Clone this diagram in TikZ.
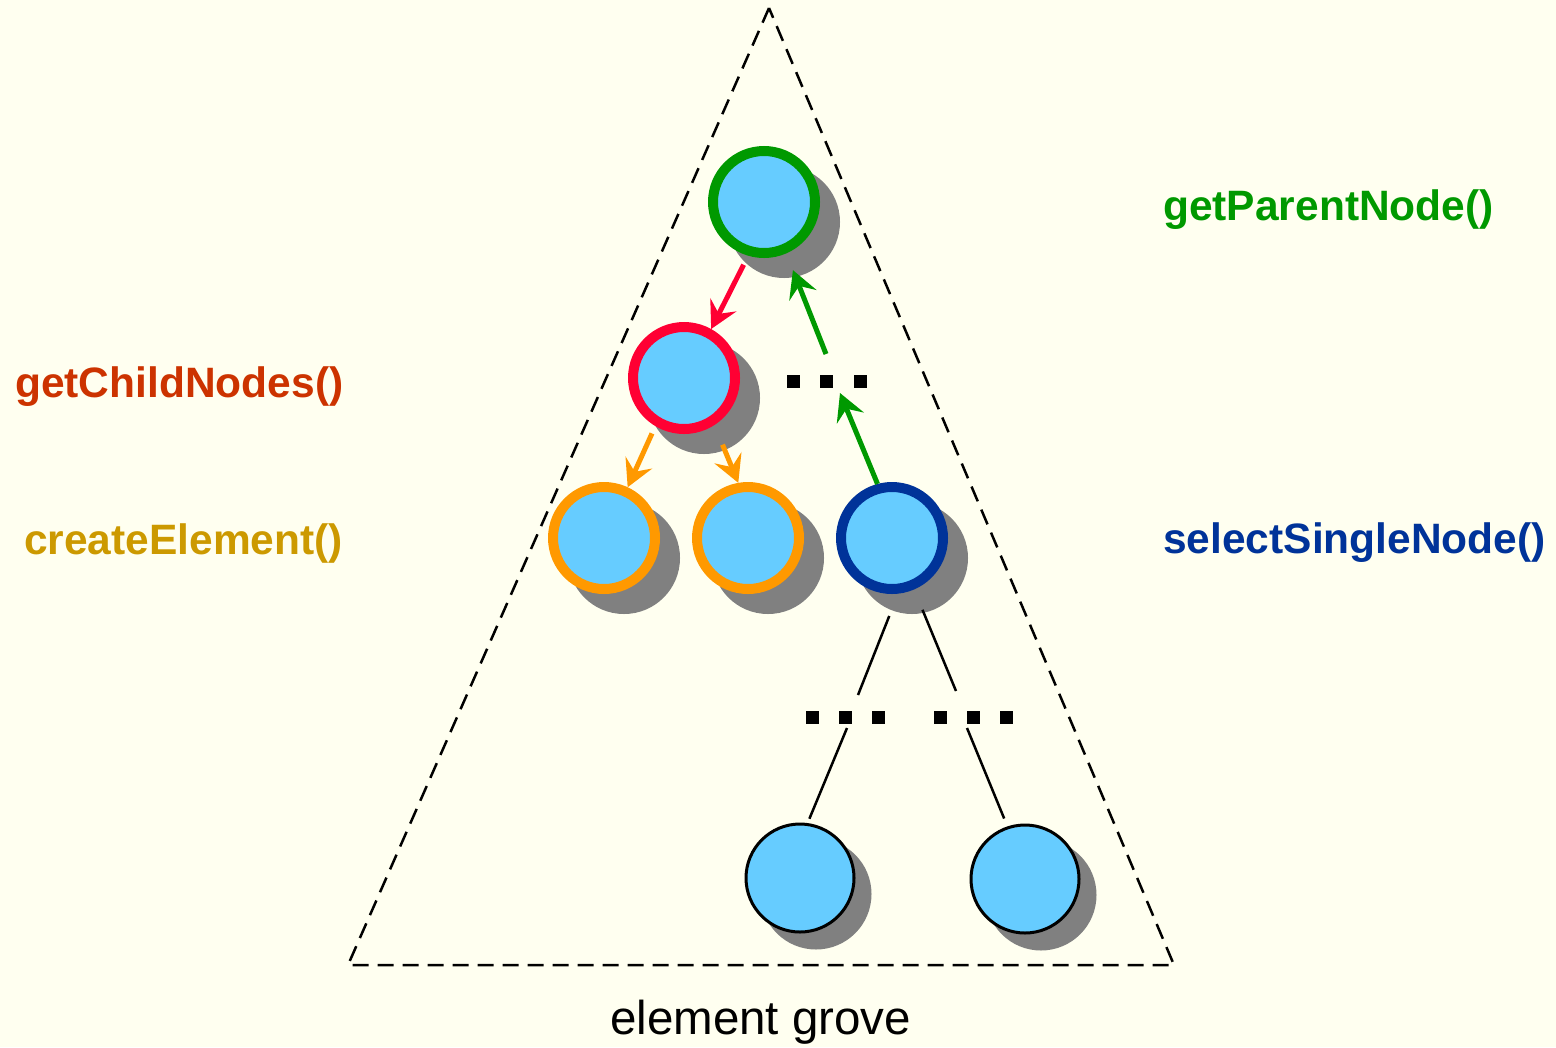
\documentclass[tikz,border=0pt]{standalone}
\usepackage{fontspec}
\setmainfont{Liberation Sans}
\usetikzlibrary{arrows.meta,calc}

\definecolor{paper}{HTML}{FFFFF0}
\definecolor{bubble}{HTML}{66CCFF}
\definecolor{shade}{HTML}{808080}
\definecolor{ringgreen}{HTML}{009900}
\definecolor{ringred}{HTML}{FF0033}
\definecolor{ringorange}{HTML}{FF9900}
\definecolor{ringblue}{HTML}{003399}
\definecolor{txtrust}{HTML}{CC3300}
\definecolor{txtgold}{HTML}{CC9900}

\begin{document}
\begin{tikzpicture}[x=1bp,y=1bp,
  ringnode/.style={circle, inner sep=0pt, minimum size=102bp, line width=10bp,
    fill=bubble,
    preaction={draw=shade, fill=shade, transform canvas={shift={(20bp,-20bp)}}}},
  plainnode/.style={circle, inner sep=0pt, minimum size=108bp, line width=3bp,
    draw=black, fill=bubble,
    preaction={draw=shade, fill=shade, transform canvas={shift={(16bp,-16bp)}}}},
  sq/.style={rectangle, fill=black, inner sep=0pt, minimum size=13bp},
  callarrow/.style={line width=5bp, -{Stealth[length=27bp, width=29bp, inset=10bp]}},
  branch/.style={line width=2.5bp, black},
  lbl/.style={font=\fontsize{42.5bp}{50bp}\selectfont\bfseries, inner sep=0pt, anchor=base west},
]

% page background and extent
\fill[paper] (0,0) rectangle (1556,-1047);
\useasboundingbox (0,0) rectangle (1556,-1047);

% the grove outline
\draw[line width=2.5bp, dash pattern=on 16bp off 9bp]
  (769,-8) -- (348,-965) -- (1174,-965) -- cycle;

% tree nodes
\node[ringnode, draw=ringgreen]  (root) at (764,-202) {};
\node[ringnode, draw=ringred]    (kid)  at (684,-378) {};
\node[ringnode, draw=ringorange] (newA) at (604,-538) {};
\node[ringnode, draw=ringorange] (newB) at (748,-538) {};
\node[ringnode, draw=ringblue]   (sel)  at (892,-538) {};
\node[plainnode] (leafA) at (800,-878) {};
\node[plainnode] (leafB) at (1025,-879) {};

% elided siblings / levels
\node[sq] (gapA1) at (793,-381) {};
\node[sq] (gapA2) at (826,-381) {};
\node[sq] (gapA3) at (860,-381) {};
\node[sq] (gapB1) at (812,-717) {};
\node[sq] (gapB2) at (845,-717) {};
\node[sq] (gapB3) at (878,-717) {};
\node[sq] (gapC1) at (940,-717) {};
\node[sq] (gapC2) at (973,-717) {};
\node[sq] (gapC3) at (1006,-717) {};

% DOM calls
\draw[callarrow, ringred]    ([shift={(-108:66)}]root.center) -- (kid.61);
\draw[callarrow, ringorange] ([shift={(-120:64)}]kid.center) -- (newA.65);
\draw[callarrow, ringorange] ([shift={(-60:77)}]kid.center) -- (newB.100);
\draw[callarrow, ringgreen]  ([shift={(0,27)}]gapA2.center) -- ([shift={(-67:74)}]root.center);
\draw[callarrow, ringgreen]  (sel.105) -- ([shift={(14,-12)}]gapA2.center);

% plain branches
\draw[branch] ([shift={(-92:78)}]sel.center) -- ([shift={(13,22)}]gapB2.center);
\draw[branch] ([shift={(-67:78)}]sel.center) -- ([shift={(-17,26)}]gapC2.center);
\draw[branch] ([shift={(2,-11)}]gapB2.center) -- ([shift={(81:60)}]leafA.center);
\draw[branch] ([shift={(-6,-11)}]gapC2.center) -- ([shift={(109:64)}]leafB.center);

% method labels
\node[lbl, text=ringgreen] (lblParent) at (1163,-220) {getParentNode()};
\node[lbl, text=txtrust]   (lblChild)  at (15,-397)   {getChildNodes()};
\node[lbl, text=txtgold]   (lblCreate) at (24,-554)   {createElement()};
\node[lbl, text=ringblue]  (lblSelect) at (1163,-553) {selectSingleNode()};

% caption
\node[font=\fontsize{47.5bp}{56bp}\selectfont, inner sep=0pt, anchor=base west]
  (caption) at (610,-1034) {element grove};
\end{tikzpicture}
\end{document}
